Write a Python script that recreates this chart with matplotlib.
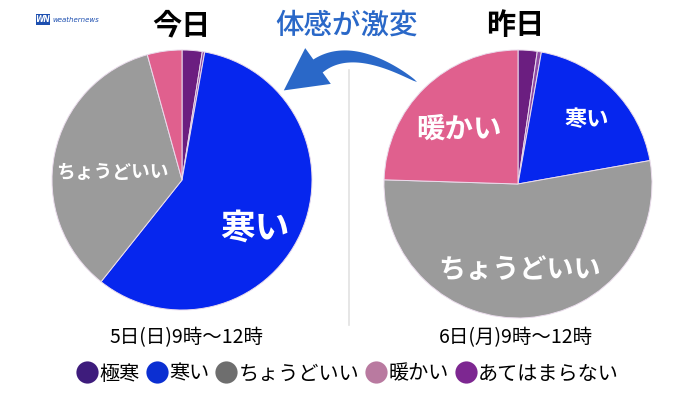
import numpy as np
import matplotlib.pyplot as plt
from matplotlib.patches import Polygon, Rectangle
from matplotlib.lines import Line2D

plt.rcParams['font.family'] = ['Noto Sans CJK JP', 'DejaVu Sans']

# Data (percent)
categories = ['極寒', 'あてはまらない', '寒い', 'ちょうどいい', '暖かい']
today_vals = [2.5, 0.3, 57.9, 35.0, 4.3]
yesterday_vals = [2.3, 0.5, 19.4, 53.3, 24.5]
legend_order = ['極寒', '寒い', 'ちょうどいい', '暖かい', 'あてはまらない']

# colours
PIE_COLORS = {'極寒': '#6b1e80', 'あてはまらない': '#8e4aa6', '寒い': '#0626ee',
              'ちょうどいい': '#9b9b9b', '暖かい': '#e0608e'}
LEG_COLORS = {'極寒': '#3e1c7c', '寒い': '#0b2fd2', 'ちょうどいい': '#6e6e6e',
              '暖かい': '#b97aa0', 'あてはまらない': '#7d2791'}
ARROW_BLUE = '#2a68c8'

W, H = 700, 399
fig = plt.figure(figsize=(7, 3.99), dpi=100, facecolor='white')
ax = fig.add_axes([0, 0, 1, 1])


def py(y):
    # pixel row (top down) -> data y
    return H - y


def draw_pie(vals, cx, cy, r, labels):
    cols = [PIE_COLORS[c] for c in categories]
    wedges, _ = ax.pie(vals, colors=cols, startangle=90, counterclock=False,
                       center=(cx, py(cy)), radius=r,
                       wedgeprops=dict(edgecolor='#eadcec', linewidth=0.7))
    for name, (dx, dy, fs) in labels.items():
        ax.text(cx + dx, py(cy + dy), name, color='white', fontsize=fs,
                fontweight='bold', ha='center', va='center')


draw_pie(today_vals, 182, 180, 130,
         {'寒い': (73, 48, 25), 'ちょうどいい': (-70, -7, 13.5)})
draw_pie(yesterday_vals, 518, 184, 134,
         {'暖かい': (-59, -54, 20.5), '寒い': (69, -64, 16), 'ちょうどいい': (2, 86, 19.5)})

# divider
ax.plot([349, 349], [py(70), py(325)], color='#e2e2e2', lw=1.2, zorder=0)

# titles
ax.text(181, py(25), '今日', fontsize=21, fontweight='bold', ha='center', va='center')
ax.text(515, py(25), '昨日', fontsize=21, fontweight='bold', ha='center', va='center')
ax.text(347, py(25), '体感が激変', fontsize=20.5, color=ARROW_BLUE, fontweight='medium',
        ha='center', va='center')

# curved arrow (tapered tail + head)
P0, C, P2 = np.array([417, 82.]), np.array([353, 41.]), np.array([318, 66.])
t = np.linspace(0, 1, 40)
pts = ((1 - t)**2)[:, None] * P0 + (2 * (1 - t) * t)[:, None] * C + (t**2)[:, None] * P2
tan = (2 * (1 - t))[:, None] * (C - P0) + (2 * t)[:, None] * (P2 - C)
tan /= np.linalg.norm(tan, axis=1)[:, None]
nrm = np.column_stack([-tan[:, 1], tan[:, 0]])
w = 16 * t**0.6 / 2
upper = pts + nrm * w[:, None]
lower = pts - nrm * w[:, None]
d = tan[-1]
n = nrm[-1]
tip = P2 + d * 42
hw = 22
outline = np.vstack([upper, P2 + n * hw, tip, P2 - n * hw, lower[::-1]])
outline[:, 1] = H - outline[:, 1]
ax.add_patch(Polygon(outline, closed=True, color=ARROW_BLUE, lw=0))

# date labels
ax.text(186, py(338), '5日(日)9時〜12時', fontsize=14, ha='center', va='center')
ax.text(516, py(338), '6日(月)9時〜12時', fontsize=14, ha='center', va='center')

# logo
ax.add_patch(Rectangle((36, py(25)), 14, 11, color='#1d4fb0', lw=0))
ax.text(43, py(19.5), 'WN', color='white', fontsize=5.5, fontweight='bold',
        style='italic', ha='center', va='center', family='DejaVu Sans')
ax.text(52, py(19.5), 'weathernews', color='#1d4fb0', fontsize=5, style='italic',
        ha='left', va='center', family='DejaVu Sans')

ax.set_xlim(0, W)
ax.set_ylim(0, H)
ax.set_aspect('auto')
ax.axis('off')

# legend
handles = [Line2D([], [], marker='o', ls='', markersize=16, markerfacecolor=LEG_COLORS[c],
                  markeredgecolor='none') for c in legend_order]
fig.legend(handles, legend_order, loc='center', bbox_to_anchor=(348 / W, 1 - 374 / H),
           ncol=5, frameon=False, fontsize=14.5, handlelength=1.0, handletextpad=0.1,
           columnspacing=0.35)

fig.savefig('out.png', dpi=100, facecolor='white')
